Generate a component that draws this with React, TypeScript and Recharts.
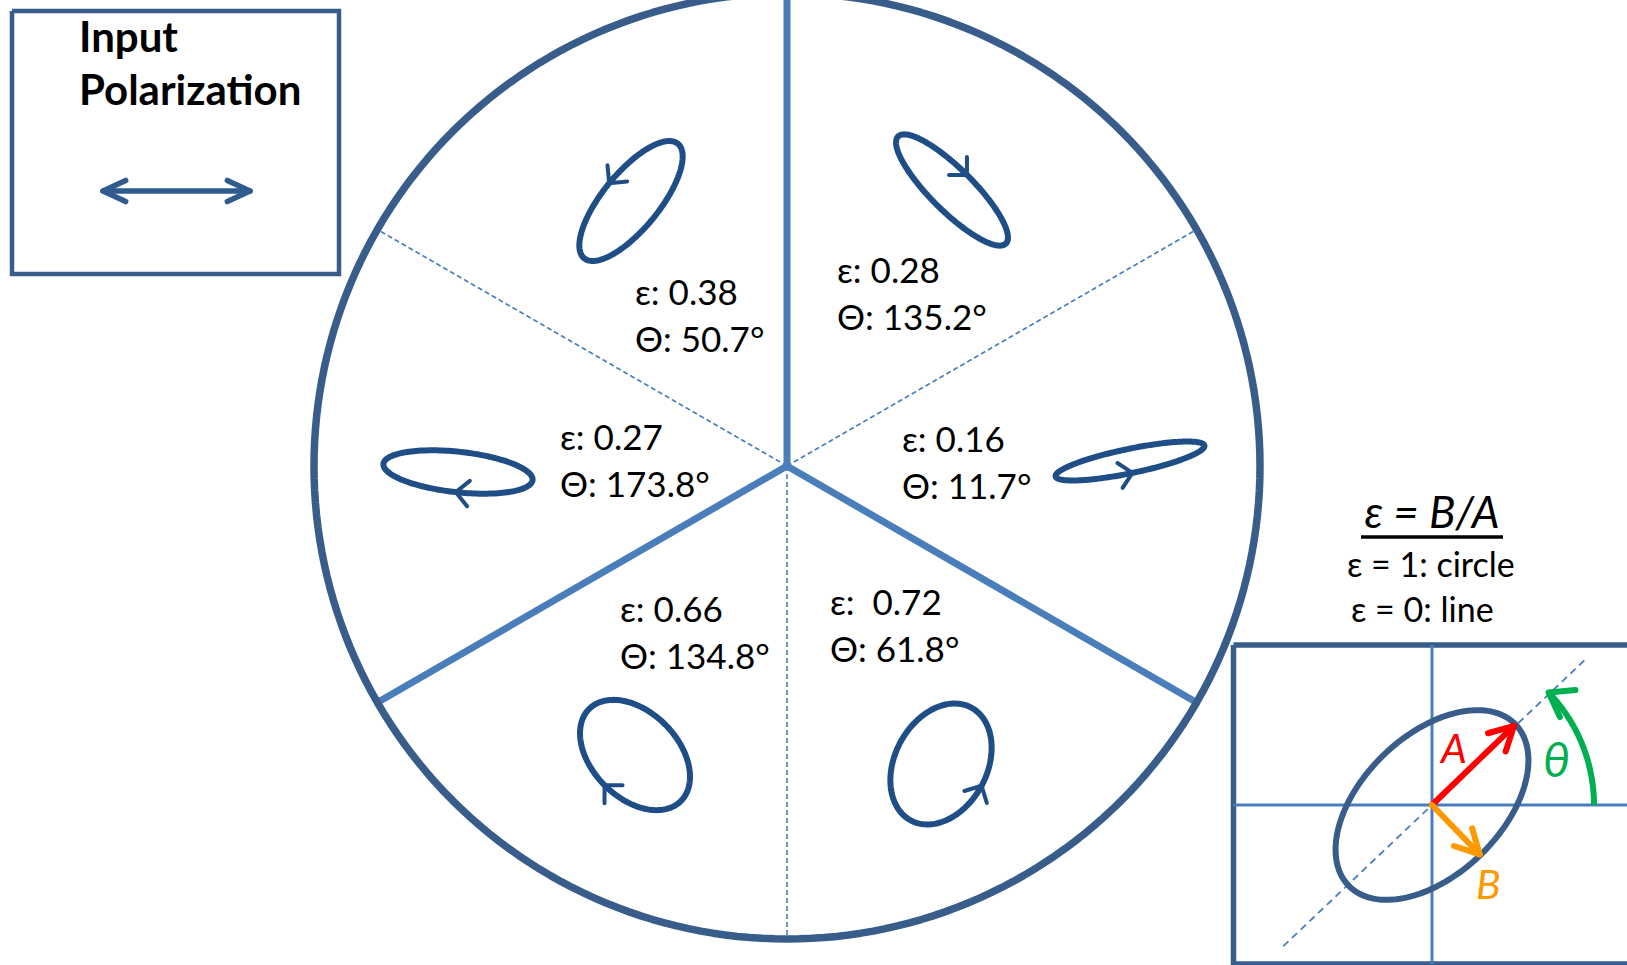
import React from 'react';
import { ComposedChart, Line, Scatter, XAxis, YAxis } from 'recharts';

// ---------------- data ----------------
const sectorEpsilon = [0.38, 0.28, 0.27, 0.16, 0.66, 0.72];
const sectorTheta = [50.7, 135.2, 173.8, 11.7, 134.8, 61.8];
// +1 = counter-clockwise, -1 = clockwise (as drawn)
const sectorHandedness = [1, -1, -1, 1, -1, 1];
const epsilonLabels = ['ε: 0.38', 'ε: 0.28', 'ε: 0.27', 'ε: 0.16', 'ε: 0.66', 'ε:  0.72'];
const thetaLabels = ['Θ: 50.7°', 'Θ: 135.2°', 'Θ: 173.8°', 'Θ: 11.7°', 'Θ: 134.8°', 'Θ: 61.8°'];
const solidDividerAngles = [90, 210, 330];
const dashedDividerAngles = [30, 150, 270];
const titleLines = ['Input', 'Polarization'];
const formulaText = ['ε = B/A'];
const legendLines = ['ε = 1: circle', 'ε = 0: line'];
const exampleEpsilon = 0.6;
const exampleTheta = 44;
const exampleLetters = ['A', 'B', 'θ'];

// ---------------- layout ----------------
const W = 1627;
const H = 965;
const DISC = { cx: 787, cy: 466, r: 473 };
const ELLIPSE_LAYOUT = [
  { cx: 631, cy: 201, a: 74, t: 90 },
  { cx: 952, cy: 190, a: 76, t: 270 },
  { cx: 458, cy: 472, a: 75, t: 90 },
  { cx: 1130, cy: 461, a: 76, t: 270 },
  { cx: 635, cy: 755, a: 65, t: 90 },
  { cx: 941, cy: 764, a: 64, t: 270 },
];
const LABEL_LAYOUT = [
  { x: 635, y: 305 },
  { x: 837, y: 283 },
  { x: 560, y: 450 },
  { x: 902, y: 452 },
  { x: 620, y: 622 },
  { x: 830, y: 615 },
];
const LABEL_GAP = 47;
const INPUT_BOX = { x1: 12, y1: 11, x2: 339, y2: 274 };
const INPUT_ARROW = { x1: 103, x2: 250, y: 191 };
const TITLE_POS = [{ x: 79, y: 52 }, { x: 79, y: 105 }];
const INSET_BOX = { x1: 1233.5, y1: 645, x2: 1660, y2: 964 };
const INSET_O = { x: 1432, y: 805 };
const INSET_A = 116;
const FORMULA_POS = { x: 1432, y: 528 };
const UNDERLINE = { x1: 1361, x2: 1503, y: 537 };
const LEGEND_POS = [{ x: 1347, y: 577 }, { x: 1351, y: 622 }];
const LETTER_POS = [{ x: 1441, y: 763 }, { x: 1476, y: 899 }, { x: 1543, y: 777 }];

const C_OUTLINE = '#385D8A';
const C_DIVIDER = '#4A7EBB';
const C_ELLIPSE = '#1F4E86';
const FONT = "Lato, 'Open Sans', sans-serif";

type P = { x: number; y: number };
const rad = (d: number) => (d * Math.PI) / 180;

function ellipsePts(cx: number, cy: number, a: number, eps: number, thDeg: number, n = 160): P[] {
  const th = rad(thDeg);
  const b = a * eps;
  const pts: P[] = [];
  for (let i = 0; i <= n; i++) {
    const t = (2 * Math.PI * i) / n;
    const mx = a * Math.cos(t) * Math.cos(th) - b * Math.sin(t) * Math.sin(th);
    const my = a * Math.cos(t) * Math.sin(th) + b * Math.sin(t) * Math.cos(th);
    pts.push({ x: cx + mx, y: cy - my });
  }
  return pts;
}

function chevron(tip: P, dir: P, len: number, spreadDeg: number, offsetDeg = 0): P[] {
  const bx = -dir.x;
  const by = -dir.y;
  const rot = (ang: number) => ({
    x: bx * Math.cos(ang) - by * Math.sin(ang),
    y: bx * Math.sin(ang) + by * Math.cos(ang),
  });
  const r1 = rot(rad(spreadDeg + offsetDeg));
  const r2 = rot(rad(-spreadDeg + offsetDeg));
  return [
    { x: tip.x + len * r1.x, y: tip.y + len * r1.y },
    tip,
    { x: tip.x + len * r2.x, y: tip.y + len * r2.y },
  ];
}

function ellipseArrow(cx: number, cy: number, a: number, eps: number, thDeg: number, tDeg: number, hand: number): P[] {
  const th = rad(thDeg);
  const b = a * eps;
  const t = rad(tDeg);
  const mx = a * Math.cos(t) * Math.cos(th) - b * Math.sin(t) * Math.sin(th);
  const my = a * Math.cos(t) * Math.sin(th) + b * Math.sin(t) * Math.cos(th);
  const tip = { x: cx + mx, y: cy - my };
  const dmx = hand * (-a * Math.sin(t) * Math.cos(th) - b * Math.cos(t) * Math.sin(th));
  const dmy = hand * (-a * Math.sin(t) * Math.sin(th) + b * Math.cos(t) * Math.cos(th));
  const nrm = Math.hypot(dmx, dmy);
  return chevron(tip, { x: dmx / nrm, y: -dmy / nrm }, 18, 45);
}

const polar = (o: P, r: number, angDeg: number): P => ({
  x: o.x + r * Math.cos(rad(angDeg)),
  y: o.y - r * Math.sin(rad(angDeg)),
});

const rectPts = (b: { x1: number; y1: number; x2: number; y2: number }): P[] => [
  { x: b.x1, y: b.y1 },
  { x: b.x2, y: b.y1 },
  { x: b.x2, y: b.y2 },
  { x: b.x1, y: b.y2 },
  { x: b.x1, y: b.y1 },
];

const discCenter = { x: DISC.cx, y: DISC.cy };
const circlePts = ellipsePts(DISC.cx, DISC.cy, DISC.r, 1, 0, 240);

const ellipses = sectorEpsilon.map((e, i) =>
  ellipsePts(ELLIPSE_LAYOUT[i].cx, ELLIPSE_LAYOUT[i].cy, ELLIPSE_LAYOUT[i].a, e, sectorTheta[i])
);
const ellipseArrows = sectorEpsilon.map((e, i) =>
  ellipseArrow(
    ELLIPSE_LAYOUT[i].cx,
    ELLIPSE_LAYOUT[i].cy,
    ELLIPSE_LAYOUT[i].a,
    e,
    sectorTheta[i],
    ELLIPSE_LAYOUT[i].t,
    sectorHandedness[i]
  )
);

// inset geometry
const insetEllipse = ellipsePts(INSET_O.x, INSET_O.y, INSET_A, exampleEpsilon, exampleTheta);
const insetAxisDash = [polar(INSET_O, -205, exampleTheta - 0.5), polar(INSET_O, 210, exampleTheta - 0.5)];
const aTip = polar(INSET_O, INSET_A - 2, exampleTheta);
const bTip = polar(INSET_O, INSET_A * exampleEpsilon - 1, exampleTheta - 90);
const aDir = { x: Math.cos(rad(exampleTheta)), y: -Math.sin(rad(exampleTheta)) };
const bDir = { x: Math.cos(rad(exampleTheta - 90)), y: -Math.sin(rad(exampleTheta - 90)) };
const ARC_R = 162;
const arcPts: P[] = [];
for (let i = 0; i <= 40; i++) arcPts.push(polar(INSET_O, ARC_R, (exampleTheta * i) / 40));
const arcEnd = arcPts[arcPts.length - 1];
const arcDir = { x: -Math.sin(rad(exampleTheta)), y: -Math.cos(rad(exampleTheta)) };

// text points
const sectorTextPts = sectorEpsilon.flatMap((_, i) => [
  { x: LABEL_LAYOUT[i].x, y: LABEL_LAYOUT[i].y, text: epsilonLabels[i] },
  { x: LABEL_LAYOUT[i].x, y: LABEL_LAYOUT[i].y + LABEL_GAP, text: thetaLabels[i] },
]);
const titlePts = titleLines.map((t, i) => ({ ...TITLE_POS[i], text: t }));
const formulaPts = formulaText.map((t) => ({ ...FORMULA_POS, text: t }));
const legendPts = legendLines.map((t, i) => ({ ...LEGEND_POS[i], text: t }));
const letterColors = ['#FF0000', '#FF9900', '#00B050'];
const letterSizes = [41, 41, 48];

const textShape = (style: any) => (props: any) => {
  const { cx, cy, payload } = props;
  return (
    <text x={cx} y={cy} fontFamily={FONT} style={{ whiteSpace: 'pre' }} {...style}>
      {payload.text}
    </text>
  );
};

const seg = (key: string, data: P[], stroke: string, width: number, extra: any = {}) => (
  <Line
    key={key}
    data={data}
    dataKey="y"
    type="linear"
    stroke={stroke}
    strokeWidth={width}
    dot={false}
    activeDot={false}
    isAnimationActive={false}
    legendType="none"
    strokeLinecap="round"
    strokeLinejoin="round"
    {...extra}
  />
);

export default function App() {
  return (
    <div style={{ position: 'absolute', left: 0, top: 0, width: W, height: H, background: '#fff' }}>
      <ComposedChart width={W} height={H} margin={{ top: 0, right: 0, bottom: 0, left: 0 }}>
        <XAxis type="number" dataKey="x" domain={[0, W]} hide allowDataOverflow />
        <YAxis type="number" dataKey="y" domain={[0, H]} reversed hide allowDataOverflow />

        {/* dividers */}
        {dashedDividerAngles.map((a) =>
          seg(`dash${a}`, [discCenter, polar(discCenter, DISC.r - 4, a)], C_DIVIDER, 1.6, {
            strokeDasharray: '5 3',
            strokeLinecap: 'butt',
          })
        )}
        {solidDividerAngles.map((a) =>
          seg(`solid${a}`, [discCenter, polar(discCenter, DISC.r - 2, a)], C_DIVIDER, 7, { strokeLinecap: 'butt' })
        )}
        {seg('disc', circlePts, C_OUTLINE, 7.5)}

        {/* ellipses */}
        {ellipses.map((pts, i) => seg(`ell${i}`, pts, C_ELLIPSE, 6))}
        {ellipseArrows.map((pts, i) => seg(`arr${i}`, pts, C_ELLIPSE, 4))}

        {/* input polarization box */}
        {seg('inbox', rectPts(INPUT_BOX), C_OUTLINE, 4.5, { strokeLinecap: 'butt', strokeLinejoin: 'miter' })}
        {seg('inline', [{ x: INPUT_ARROW.x1, y: INPUT_ARROW.y }, { x: INPUT_ARROW.x2, y: INPUT_ARROW.y }], '#2F5B8F', 5.5)}
        {seg('inL', chevron({ x: INPUT_ARROW.x1, y: INPUT_ARROW.y }, { x: -1, y: 0 }, 25, 25), '#2F5B8F', 5.5)}
        {seg('inR', chevron({ x: INPUT_ARROW.x2, y: INPUT_ARROW.y }, { x: 1, y: 0 }, 25, 25), '#2F5B8F', 5.5)}

        {/* inset */}
        {seg('ibox', rectPts(INSET_BOX), C_OUTLINE, 5.5, { strokeLinecap: 'butt', strokeLinejoin: 'miter' })}
        {seg('igv', [{ x: INSET_O.x, y: INSET_BOX.y1 }, { x: INSET_O.x, y: INSET_BOX.y2 }], C_DIVIDER, 3, { strokeLinecap: 'butt' })}
        {seg('igh', [{ x: INSET_BOX.x1, y: INSET_O.y }, { x: W + 10, y: INSET_O.y }], C_DIVIDER, 3, { strokeLinecap: 'butt' })}
        {seg('idash', insetAxisDash, C_DIVIDER, 1.8, { strokeDasharray: '7 5', strokeLinecap: 'butt' })}
        {seg('iell', insetEllipse, C_OUTLINE, 6)}
        {seg('iA', [INSET_O, aTip], '#FF0000', 6)}
        {seg('iAh', chevron(aTip, aDir, 27, 28), '#FF0000', 6)}
        {seg('iB', [INSET_O, bTip], '#FF9900', 6)}
        {seg('iBh', chevron(bTip, bDir, 27, 28), '#FF9900', 6)}
        {seg('iArc', arcPts, '#00B050', 6, { strokeLinecap: 'butt' })}
        {seg('iArch', chevron(arcEnd, arcDir, 27, 35, -16), '#00B050', 6)}
        {seg('uline', [{ x: UNDERLINE.x1, y: UNDERLINE.y }, { x: UNDERLINE.x2, y: UNDERLINE.y }], '#000', 3.5, {
          strokeLinecap: 'butt',
        })}

        {/* texts */}
        <Scatter
          data={titlePts}
          isAnimationActive={false}
          legendType="none"
          shape={textShape({ fontSize: 42, fontWeight: 700, fill: '#000' })}
        />
        <Scatter
          data={sectorTextPts}
          isAnimationActive={false}
          legendType="none"
          shape={textShape({ fontSize: 35, fill: '#000' })}
        />
        <Scatter
          data={formulaPts}
          isAnimationActive={false}
          legendType="none"
          shape={textShape({ fontSize: 44, fontStyle: 'italic', textAnchor: 'middle', fill: '#000' })}
        />
        <Scatter
          data={legendPts}
          isAnimationActive={false}
          legendType="none"
          shape={textShape({ fontSize: 34, fill: '#000' })}
        />
        {exampleLetters.map((t, i) => (
          <Scatter
            key={`let${i}`}
            data={[{ ...LETTER_POS[i], text: t }]}
            isAnimationActive={false}
            legendType="none"
            shape={textShape({ fontSize: letterSizes[i], fontStyle: 'italic', fill: letterColors[i] })}
          />
        ))}
      </ComposedChart>
    </div>
  );
}
